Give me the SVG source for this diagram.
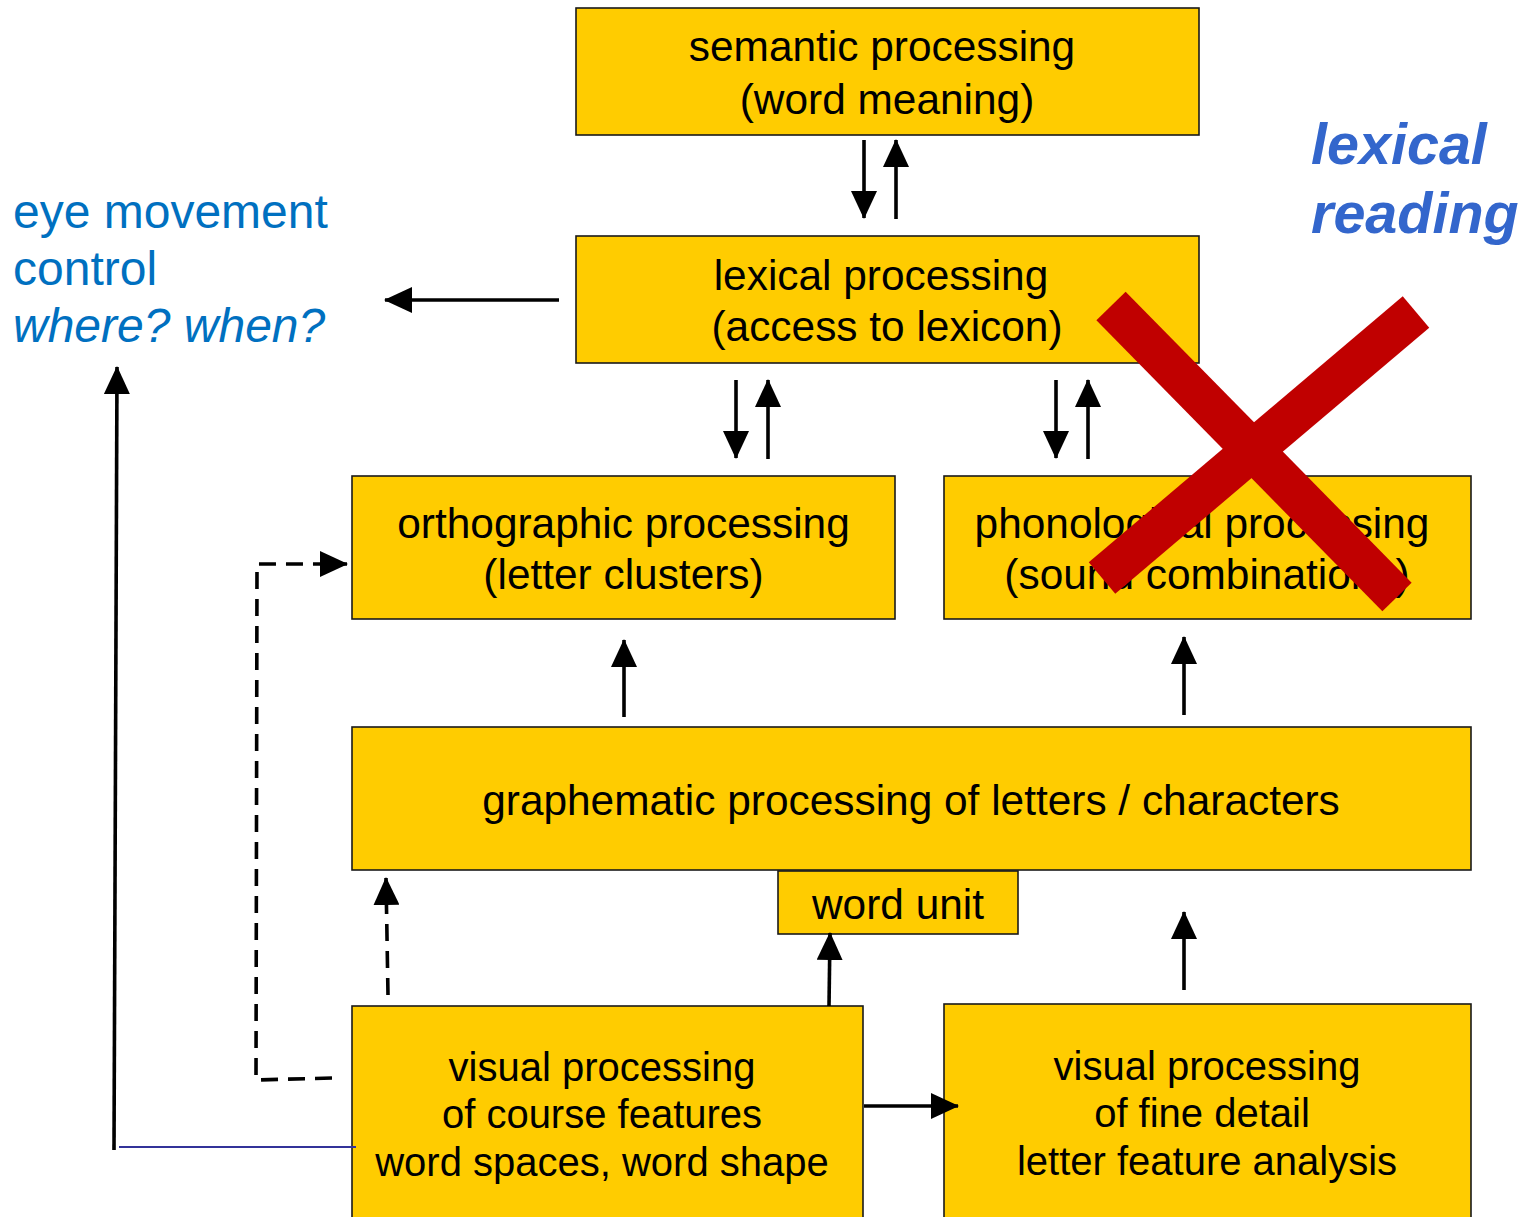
<svg xmlns="http://www.w3.org/2000/svg" width="1529" height="1217" viewBox="0 0 1529 1217">
<style>
.box{fill:#FFCC00;stroke:#1a1a1a;stroke-width:1.6}
.t{font-family:"Liberation Sans",Arial,sans-serif;font-size:42.4px;fill:#000;text-anchor:middle}
.t2{font-family:"Liberation Sans",Arial,sans-serif;font-size:40px;fill:#000;text-anchor:middle}
.ln{stroke:#000;stroke-width:3.6;fill:none}
.ds{stroke:#000;stroke-width:3.6;fill:none;stroke-dasharray:17 10}
.eye{font-family:"Liberation Sans",Arial,sans-serif;font-size:48px;fill:#0070C0}
.lr{font-family:"Liberation Sans",Arial,sans-serif;font-size:57.5px;font-weight:bold;font-style:italic;fill:#3366CC}
</style>
<defs>
<marker id="ah" viewBox="0 0 28 26" markerWidth="28" markerHeight="26" refX="27" refY="13" orient="auto" markerUnits="userSpaceOnUse">
<path d="M0,0 L28,13 L0,26 z" fill="#000"/>
</marker>
</defs>
<rect width="1529" height="1217" fill="#fff"/>

<g id="semantic">
<rect class="box" x="576" y="8" width="623" height="127"/>
<text class="t" x="882" y="61">semantic processing</text>
<text class="t" x="887" y="114">(word meaning)</text>
</g>
<g id="lexical">
<rect class="box" x="576" y="236" width="623" height="127"/>
<text class="t" x="881" y="290">lexical processing</text>
<text class="t" x="887" y="341">(access to lexicon)</text>
</g>
<g id="orthographic">
<rect class="box" x="352" y="476" width="543" height="143"/>
<text class="t" x="623.5" y="538">orthographic processing</text>
<text class="t" x="623.5" y="589">(letter clusters)</text>
</g>
<g id="phonological">
<rect class="box" x="944" y="476" width="527" height="143"/>
<text class="t" x="1202" y="538">phonological processing</text>
<text class="t" x="1207" y="589">(sound combinations)</text>
</g>
<g id="graphematic">
<rect class="box" x="352" y="727" width="1119" height="143"/>
<text class="t" x="911" y="815">graphematic processing of letters / characters</text>
</g>
<g id="wordunit">
<rect class="box" x="778" y="871" width="240" height="63"/>
<text class="t" x="898" y="919">word unit</text>
</g>
<g id="visualcoarse">
<rect class="box" x="352" y="1006" width="511" height="220"/>
<text class="t2" x="602" y="1081">visual processing</text>
<text class="t2" x="602" y="1128">of course features</text>
<text class="t2" x="602" y="1176">word spaces, word shape</text>
</g>
<g id="visualfine">
<rect class="box" x="944" y="1004" width="527" height="222"/>
<text class="t2" x="1207" y="1080">visual processing</text>
<text class="t2" x="1202" y="1127">of fine detail</text>
<text class="t2" x="1207" y="1175">letter feature analysis</text>
</g>
<g id="eyemovement">
<text class="eye" x="13" y="228">eye movement</text>
<text class="eye" x="13" y="285">control</text>
<text class="eye" x="13" y="342" font-style="italic">where? when?</text>
</g>
<g id="lexicalreading">
<text class="lr" x="1311" y="164">lexical</text>
<text class="lr" x="1311" y="233">reading</text>
</g>

<g id="connectors">
<line class="ln" x1="864" y1="140" x2="864" y2="218" marker-end="url(#ah)"/>
<line class="ln" x1="896" y1="219" x2="896" y2="140" marker-end="url(#ah)"/>
<line class="ln" x1="736" y1="380" x2="736" y2="458" marker-end="url(#ah)"/>
<line class="ln" x1="768" y1="459" x2="768" y2="380" marker-end="url(#ah)"/>
<line class="ln" x1="1056" y1="380" x2="1056" y2="458" marker-end="url(#ah)"/>
<line class="ln" x1="1088" y1="459" x2="1088" y2="380" marker-end="url(#ah)"/>
<line class="ln" x1="559" y1="300" x2="385" y2="300" marker-end="url(#ah)"/>
<line class="ln" x1="624" y1="717" x2="624" y2="640" marker-end="url(#ah)"/>
<line class="ln" x1="1184" y1="715" x2="1184" y2="637" marker-end="url(#ah)"/>
<line class="ln" x1="829" y1="1006" x2="830" y2="933" marker-end="url(#ah)"/>
<line class="ln" x1="1184" y1="990" x2="1184" y2="912" marker-end="url(#ah)"/>
<line class="ln" x1="864" y1="1106" x2="958" y2="1106" marker-end="url(#ah)"/>
<line class="ds" x1="388" y1="995" x2="386" y2="878" marker-end="url(#ah)"/>
<path class="ds" d="M332,1078 L256,1080 L257,564 L347,564" marker-end="url(#ah)"/>
<line class="ln" x1="114" y1="1150" x2="117" y2="367" marker-end="url(#ah)"/>
<line x1="119" y1="1147" x2="356" y2="1147" stroke="#333399" stroke-width="2"/>
</g>

<g id="cross">
<line x1="1111" y1="306" x2="1397" y2="597" stroke="#C00000" stroke-width="41"/>
<line x1="1416" y1="312" x2="1102" y2="578" stroke="#C00000" stroke-width="41"/>
</g>
</svg>
